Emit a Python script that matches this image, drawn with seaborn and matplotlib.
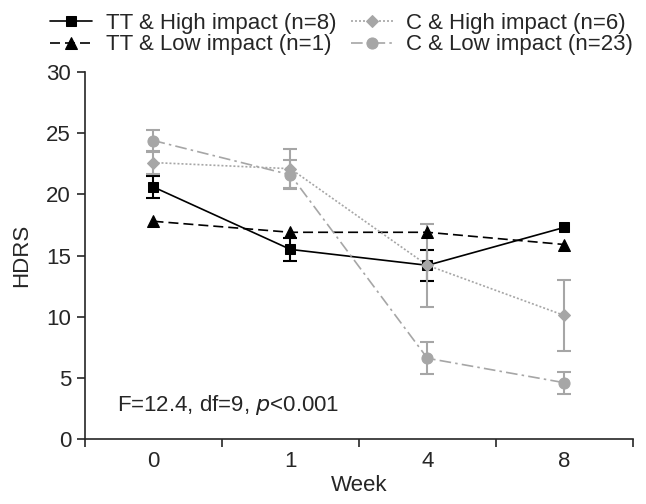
import matplotlib
matplotlib.use("Agg")
from matplotlib import pyplot as plt
import seaborn as sns
import pandas as pd
import numpy as np

weeks = ["0", "1", "4", "8"]
groups = ["TT & High impact (n=8)", "TT & Low impact (n=1)",
          "C & High impact (n=6)", "C & Low impact (n=23)"]
tt_high = [20.6, 15.5, 14.2, 17.3]
tt_high_err = [0.9, 0.95, 1.25, 0.0]
tt_low = [17.8, 16.9, 16.9, 15.9]
tt_low_err = [0.0, 0.0, 0.0, 0.0]
c_high = [22.6, 22.1, 14.2, 10.1]
c_high_err = [0.95, 1.6, 3.4, 2.9]
c_low = [24.4, 21.6, 6.6, 4.6]
c_low_err = [0.9, 1.2, 1.3, 0.9]

means = [tt_high, tt_low, c_high, c_low]
errs = [tt_high_err, tt_low_err, c_high_err, c_low_err]

sns.set_style("ticks")
plt.rcParams['font.family'] = ['Liberation Sans', 'DejaVu Sans']
FS = 16

# style per group: color, marker, linestyle, marker size
styles = [
    ("black", "s", "-", 7),
    ("black", "^", (0, (6, 3)), 8),
    ("#a6a6a6", "D", (0, (1.2, 1.2)), 6),
    ("#a6a6a6", "o", (0, (7, 2.5, 1.5, 2.5)), 8),
]

rows = []
for g, m in zip(groups, means):
    for i, v in enumerate(m):
        rows.append({"group": g, "pos": i, "HDRS": v})
df = pd.DataFrame(rows)

fig = plt.figure(figsize=(6.46, 5.04), dpi=100)
ax = fig.add_axes([0.1316, 0.129, 0.848, 0.728])

for g, m, e, (col, mk, ls, ms) in zip(groups, means, errs, styles):
    sub = df[df["group"] == g]
    x = sub["pos"].values
    e = np.array(e)
    show = e > 0
    if show.any():
        ax.errorbar(x[show], np.array(m)[show], yerr=e[show], fmt="none",
                    ecolor=col, elinewidth=1.5, capsize=4.7, capthick=1.5, zorder=2)
    sns.lineplot(x=x, y=sub["HDRS"].values, ax=ax, color=col, marker=mk,
                 markersize=ms, markeredgecolor=col, linewidth=1.2,
                 linestyle=ls, label=g, zorder=3, legend=False)

ax.set_xlim(-0.5, 3.5)
ax.set_ylim(0, 30)
ax.set_yticks([0, 5, 10, 15, 20, 25, 30])
ax.set_xticks([-0.5, 0.5, 1.5, 2.5, 3.5])
ax.set_xticklabels([])
ax.set_xticks(range(len(weeks)), minor=True)
ax.set_xticklabels(weeks, minor=True)
ax.tick_params(axis="x", which="minor", length=0, labelsize=FS, pad=8.5)
ax.tick_params(axis="x", which="major", length=6, width=1.2, direction="out")
ax.tick_params(axis="y", length=6, width=1.2, labelsize=FS, direction="out", pad=4)
for s in ["top", "right"]:
    ax.spines[s].set_visible(False)
for s in ["left", "bottom"]:
    ax.spines[s].set_linewidth(1.2)
ax.set_xlabel("Week", fontsize=FS, labelpad=2.5)
ax.set_ylabel("HDRS", fontsize=FS, labelpad=10)

ax.text(-0.27, 2.8, "F=12.4, df=9, $\\it{p}$<0.001", fontsize=FS, va="center")

handles = ax.get_lines()
leg_lines = [l for l in handles if l.get_label() in groups]
fig.legend(leg_lines, groups, loc="upper left", bbox_to_anchor=(50 / 646, 1 - 13 / 504),
           ncol=2, frameon=False, fontsize=FS, handlelength=1.9, handletextpad=0.6,
           columnspacing=0.65, labelspacing=0.02, borderpad=0, borderaxespad=0)

plt.savefig("out.png", dpi=100)
